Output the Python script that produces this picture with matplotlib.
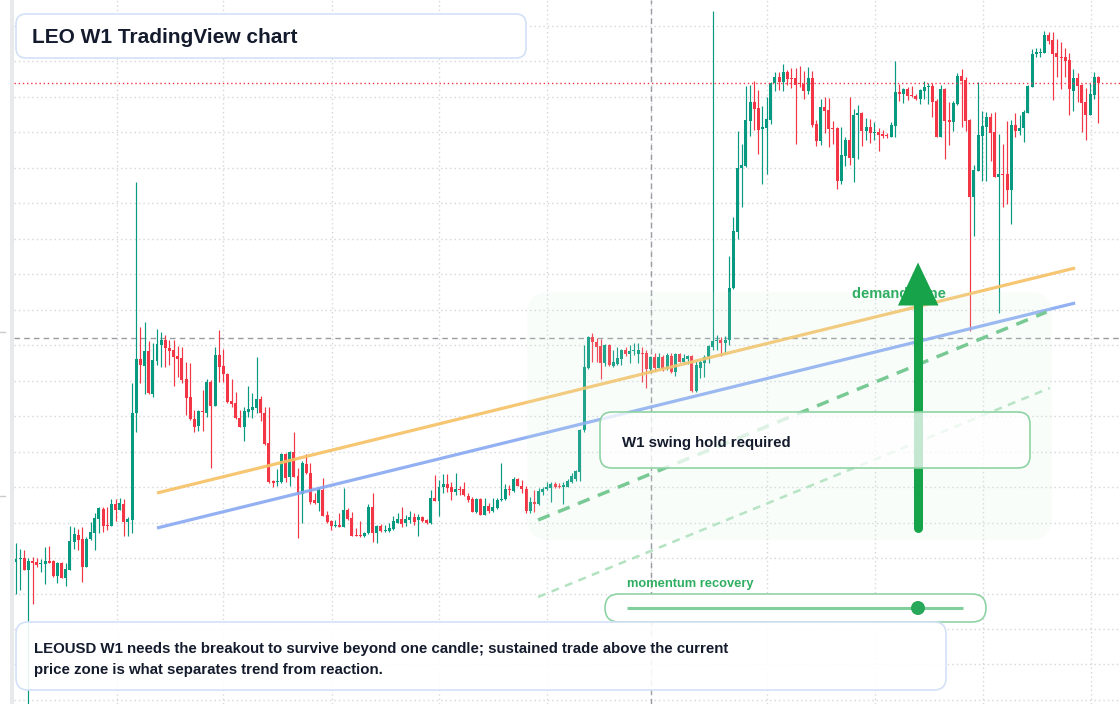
import numpy as np
import matplotlib
matplotlib.use("Agg")
import matplotlib.pyplot as plt
from matplotlib.patches import FancyBboxPatch, Rectangle, Polygon, Circle

plt.rcParams['font.family'] = ['Liberation Sans', 'DejaVu Sans']

# ---------------- data: LEOUSD weekly OHLC ----------------
opens = [4.38, 4.41, 4.42, 4.30, 4.39, 4.38, 4.36, 4.36, 4.39, 4.39, 4.24, 4.37, 4.22, 4.30, 4.58, 4.65, 4.61, 4.33, 4.61, 4.67,
         4.81, 4.91, 4.75, 4.74, 4.96, 4.90, 4.96, 4.78, 4.80, 5.87, 6.41, 6.34, 6.49, 6.06, 6.39, 6.55, 6.60, 6.52, 6.50, 6.44,
         6.42, 6.21, 6.03, 5.81, 5.74, 5.89, 5.87, 6.18, 5.94, 6.45, 6.34, 6.26, 5.99, 5.97, 5.82, 5.73, 5.88, 5.90, 5.92, 6.01,
         5.87, 5.57, 5.19, 5.18, 5.18, 5.46, 5.23, 5.48, 5.24, 5.06, 5.36, 5.27, 5.00, 4.97, 5.10, 4.85, 4.79, 4.74, 4.75, 4.73,
         4.90, 4.82, 4.65, 4.65, 4.64, 4.67, 4.93, 4.67, 4.74, 4.69, 4.69, 4.71, 4.77, 4.81, 4.77, 4.80, 4.83, 4.80, 4.83, 4.80,
         4.77, 5.02, 4.99, 5.13, 5.16, 5.13, 5.08, 5.11, 5.11, 5.04, 5.01, 4.88, 5.01, 4.85, 4.94, 4.89, 4.92, 5.00, 5.01, 5.11,
         5.09, 5.21, 5.14, 5.11, 4.89, 4.98, 4.96, 5.08, 5.11, 5.12, 5.16, 5.14, 5.13, 5.13, 5.18, 5.21, 5.28, 5.70, 6.32, 6.63,
         6.58, 6.54, 6.37, 6.55, 6.34, 6.36, 6.41, 6.50, 6.46, 6.49, 6.46, 6.47, 6.47, 6.31, 6.43, 6.32, 6.43, 6.31, 6.44, 6.28,
         6.46, 6.38, 6.41, 6.44, 6.09, 6.32, 6.37, 6.43, 6.53, 6.59, 6.60, 6.57, 6.60, 7.12, 7.68, 8.32, 8.34, 8.79, 8.98, 8.92,
         8.71, 8.72, 8.80, 9.17, 9.23, 9.18, 9.28, 9.22, 9.22, 9.17, 9.16, 9.09, 9.22, 8.76, 8.59, 8.93, 8.90, 8.72, 8.72, 8.19,
         8.44, 8.60, 8.42, 8.85, 8.87, 8.69, 8.73, 8.67, 8.68, 8.66, 8.65, 8.63, 8.74, 9.08, 9.06, 9.11, 9.05, 9.04, 9.01, 9.09,
         9.13, 9.14, 8.99, 8.63, 9.11, 8.80, 8.78, 8.96, 9.24, 9.20, 8.80, 8.03, 8.29, 8.64, 8.73, 8.83, 8.68, 8.23, 8.26, 8.26,
         8.10, 8.75, 8.69, 8.72, 8.87, 9.13, 9.46, 9.47, 9.47, 9.65, 9.60, 9.47, 9.43, 9.43, 9.40, 9.09, 9.22, 9.15, 8.98, 8.85,
         9.05, 9.23]
highs = [4.57, 4.51, 4.50, 4.42, 4.43, 4.42, 4.41, 4.53, 4.54, 4.40, 4.38, 4.38, 4.37, 4.74, 4.73, 4.71, 4.73, 4.63, 4.78, 4.87,
         4.93, 4.93, 4.93, 5.01, 5.01, 5.02, 5.01, 4.83, 6.17, 8.18, 6.73, 6.78, 6.59, 6.57, 6.71, 6.68, 6.65, 6.60, 6.60, 6.54,
         6.53, 6.38, 6.37, 5.90, 5.90, 6.10, 6.21, 6.20, 6.53, 6.70, 6.51, 6.27, 6.21, 6.08, 5.90, 5.93, 6.14, 6.07, 6.43, 6.04,
         5.93, 5.93, 5.20, 5.31, 5.47, 5.47, 5.49, 5.68, 5.32, 5.39, 5.46, 5.37, 5.07, 5.13, 5.22, 4.89, 4.80, 4.80, 4.87, 5.12,
         4.92, 4.88, 4.72, 4.79, 4.68, 4.96, 5.07, 4.75, 4.76, 4.75, 4.77, 4.84, 4.87, 4.93, 4.85, 4.89, 4.87, 4.86, 4.84, 4.81,
         5.10, 5.25, 5.20, 5.26, 5.26, 5.18, 5.27, 5.14, 5.18, 5.07, 5.03, 5.02, 5.02, 5.02, 4.97, 5.02, 5.02, 5.37, 5.16, 5.15,
         5.23, 5.22, 5.20, 5.14, 5.03, 5.10, 5.12, 5.13, 5.18, 5.18, 5.18, 5.17, 5.18, 5.21, 5.27, 5.30, 5.71, 6.55, 6.64, 6.67,
         6.62, 6.61, 6.56, 6.56, 6.50, 6.53, 6.51, 6.53, 6.55, 6.57, 6.57, 6.53, 6.50, 6.44, 6.47, 6.47, 6.45, 6.47, 6.47, 6.47,
         6.47, 6.46, 6.45, 6.45, 6.39, 6.40, 6.45, 6.55, 9.89, 6.65, 6.63, 6.64, 7.44, 7.83, 8.69, 8.56, 9.14, 9.15, 9.19, 9.10,
         8.94, 9.03, 9.18, 9.28, 9.28, 9.36, 9.30, 9.32, 9.32, 9.34, 9.29, 9.33, 9.29, 8.80, 9.01, 9.03, 9.02, 8.79, 8.73, 8.73,
         8.63, 9.03, 8.91, 8.95, 8.88, 8.82, 8.81, 8.78, 8.72, 8.70, 8.67, 8.78, 9.39, 9.16, 9.12, 9.13, 9.14, 9.06, 9.11, 9.19,
         9.17, 9.17, 9.01, 9.15, 9.12, 8.98, 8.99, 9.27, 9.31, 9.23, 8.81, 8.35, 9.18, 8.89, 8.88, 8.87, 8.88, 8.66, 8.56, 8.79,
         8.80, 8.87, 8.85, 8.90, 9.15, 9.51, 9.52, 9.52, 9.69, 9.68, 9.68, 9.61, 9.58, 9.52, 9.47, 9.31, 9.27, 9.16, 9.12, 9.17,
         9.28, 9.24]
lows = [4.06, 4.10, 4.30, 2.90, 3.96, 4.33, 4.28, 4.16, 4.37, 4.23, 4.17, 4.22, 4.14, 4.30, 4.51, 4.50, 4.18, 4.33, 4.60, 4.50,
        4.67, 4.68, 4.70, 4.74, 4.79, 4.90, 4.64, 4.64, 4.67, 5.68, 6.17, 6.06, 6.06, 6.03, 6.35, 6.33, 6.33, 6.35, 6.14, 6.23,
        6.17, 5.85, 5.80, 5.68, 5.69, 5.69, 5.83, 5.32, 5.94, 6.18, 6.18, 5.97, 5.93, 5.81, 5.73, 5.59, 5.83, 5.82, 5.87, 5.79,
        5.55, 5.17, 5.13, 5.14, 5.17, 5.18, 5.14, 5.23, 4.62, 4.77, 5.26, 4.96, 4.96, 4.89, 4.84, 4.77, 4.70, 4.73, 4.73, 4.73,
        4.80, 4.64, 4.64, 4.63, 4.63, 4.66, 4.58, 4.57, 4.68, 4.68, 4.68, 4.70, 4.77, 4.73, 4.74, 4.77, 4.75, 4.64, 4.78, 4.76,
        4.76, 4.99, 4.84, 5.07, 5.08, 5.00, 5.05, 5.05, 5.04, 4.98, 4.88, 4.87, 4.85, 4.85, 4.87, 4.88, 4.91, 4.99, 5.00, 5.05,
        5.08, 5.14, 5.07, 4.87, 4.87, 4.88, 4.95, 5.05, 5.10, 4.98, 5.12, 5.12, 4.96, 5.13, 5.17, 5.19, 5.19, 5.68, 6.31, 6.38,
        6.38, 6.21, 6.34, 6.34, 6.33, 6.35, 6.35, 6.44, 6.37, 6.45, 6.37, 6.18, 6.12, 6.29, 6.29, 6.32, 6.29, 6.30, 6.27, 6.24,
        6.38, 6.37, 6.36, 6.08, 6.08, 6.22, 6.23, 6.37, 6.50, 6.50, 6.44, 6.46, 6.55, 7.11, 7.61, 7.93, 8.33, 8.64, 8.70, 8.46,
        8.16, 8.26, 8.76, 9.09, 9.10, 9.09, 9.15, 9.12, 8.56, 9.13, 9.01, 9.06, 8.73, 8.54, 8.55, 8.67, 8.53, 8.56, 8.11, 8.16,
        8.34, 8.35, 8.18, 8.41, 8.54, 8.60, 8.57, 8.60, 8.49, 8.62, 8.62, 8.63, 8.63, 8.99, 8.97, 9.00, 9.03, 9.00, 8.96, 9.01,
        8.96, 8.83, 8.63, 8.63, 8.41, 8.55, 8.69, 8.95, 8.73, 8.69, 6.69, 7.64, 8.29, 8.19, 8.19, 8.39, 8.23, 6.87, 7.93, 7.96,
        7.76, 8.63, 8.65, 8.58, 8.87, 9.13, 9.43, 9.43, 9.47, 9.56, 9.00, 9.23, 9.11, 9.23, 8.85, 8.89, 8.98, 8.68, 8.60, 8.85,
        9.01, 8.77]
closes = [4.41, 4.42, 4.30, 4.39, 4.37, 4.35, 4.37, 4.39, 4.37, 4.24, 4.37, 4.22, 4.31, 4.59, 4.66, 4.60, 4.33, 4.61, 4.68, 4.82,
          4.92, 4.74, 4.74, 4.96, 4.90, 4.97, 4.78, 4.81, 5.87, 6.41, 6.35, 6.49, 6.07, 6.40, 6.56, 6.60, 6.52, 6.49, 6.43, 6.41,
          6.20, 6.02, 5.81, 5.73, 5.89, 5.88, 6.18, 5.94, 6.45, 6.33, 6.26, 5.98, 5.96, 5.82, 5.73, 5.89, 5.91, 5.93, 6.01, 5.87,
          5.56, 5.18, 5.17, 5.19, 5.46, 5.22, 5.48, 5.23, 5.07, 5.37, 5.27, 4.98, 4.97, 5.10, 4.84, 4.78, 4.74, 4.75, 4.73, 4.90,
          4.81, 4.64, 4.64, 4.64, 4.67, 4.93, 4.67, 4.74, 4.69, 4.70, 4.72, 4.79, 4.81, 4.76, 4.81, 4.83, 4.78, 4.83, 4.79, 4.77,
          5.02, 4.99, 5.13, 5.16, 5.12, 5.08, 5.11, 5.10, 5.05, 5.00, 4.88, 5.01, 4.85, 4.94, 4.89, 4.93, 5.00, 5.01, 5.11, 5.10,
          5.21, 5.14, 5.11, 4.89, 4.98, 4.96, 5.09, 5.11, 5.13, 5.16, 5.13, 5.13, 5.15, 5.19, 5.24, 5.29, 5.70, 6.33, 6.63, 6.58,
          6.53, 6.37, 6.55, 6.35, 6.38, 6.42, 6.50, 6.46, 6.49, 6.50, 6.50, 6.46, 6.31, 6.43, 6.32, 6.43, 6.31, 6.45, 6.28, 6.46,
          6.38, 6.42, 6.44, 6.09, 6.35, 6.38, 6.43, 6.54, 6.59, 6.60, 6.57, 6.60, 7.12, 7.69, 8.32, 8.35, 8.80, 8.98, 8.91, 8.70,
          8.73, 8.81, 9.17, 9.23, 9.18, 9.28, 9.21, 9.21, 9.15, 9.16, 9.09, 9.22, 8.75, 8.59, 8.93, 8.89, 8.71, 8.71, 8.19, 8.45,
          8.60, 8.42, 8.85, 8.87, 8.69, 8.73, 8.67, 8.68, 8.65, 8.64, 8.64, 8.75, 9.08, 9.06, 9.11, 9.04, 9.04, 9.01, 9.10, 9.13,
          9.14, 8.98, 8.63, 9.11, 8.79, 8.78, 8.97, 9.24, 9.19, 8.79, 8.03, 8.30, 8.65, 8.74, 8.83, 8.67, 8.23, 8.26, 8.25, 8.10,
          8.75, 8.69, 8.72, 8.88, 9.14, 9.46, 9.48, 9.48, 9.65, 9.59, 9.46, 9.43, 9.42, 9.39, 9.11, 9.22, 9.14, 8.97, 8.85, 9.06,
          9.23, 9.17]

# time-grid positions (bar index) and crosshair
time_grid = [24.3, 50.0, 76.1, 102.1, 128.1, 153.2, 181.2, 207.2, 233.1, 259.2]
crosshair_bar = 153.2
crosshair_price = 6.615

# drawn trendlines: (bar, price) endpoints
orange_line = [(34.0, 5.07), (255.4, 7.32)]
blue_line = [(34.0, 4.72), (255.4, 6.97)]
green_dash = [(125.9, 4.80), (248.5, 6.88)]
light_dash = [(125.9, 4.03), (249.3, 6.12)]

UP = '#089981'
DOWN = '#f23645'

W, H = 1120, 704
fig = plt.figure(figsize=(W / 100, H / 100), dpi=100)
fig.patch.set_facecolor('white')

# main price axes (pixel 16 = bar 0, 4.147 px per bar; price = 10 - y/100)
ax = fig.add_axes([0, 0, 1, 1])
ax.set_xlim(-16 / 4.147, (W - 16) / 4.147)
ax.set_ylim(10 - H / 100, 10.0)
ax.axis('off')

o = np.array(opens); h = np.array(highs); l = np.array(lows); c = np.array(closes)
idx = np.arange(len(o))
col = np.where(c >= o, UP, DOWN)

xmin_frac = 14 / W
# horizontal grid
for p in np.arange(9.74, 2.9, -0.3547):
    ax.axhline(p, xmin=xmin_frac, xmax=1, color='#d4d6da', lw=1.0, ls=(0, (1, 2.2)), zorder=0)
for g in time_grid:
    ax.axvline(g, color='#d4d6da', lw=1.0, ls=(0, (1, 2.2)), zorder=0)

# crosshair
ax.axvline(crosshair_bar, color='#9a9ca3', lw=1.0, ls=(0, (4, 3)), zorder=1)
ax.axhline(crosshair_price, xmin=xmin_frac, xmax=1, color='#9a9ca3', lw=1.0, ls=(0, (4, 3)), zorder=1)

# candles
ax.vlines(idx, l, h, colors=col, lw=0.85, zorder=2)
body_lo = np.minimum(o, c)
body_h = np.maximum(np.abs(c - o), 0.014)
ax.bar(idx, body_h, bottom=body_lo, width=0.72, color=col, lw=0, zorder=3)

# last price line
ax.axhline(c[-1], xmin=xmin_frac, xmax=1, color=DOWN, lw=1.0, ls=(0, (1, 2)), zorder=4)

# trendlines
def seg(pts, **kw):
    ax.plot([pts[0][0], pts[1][0]], [pts[0][1], pts[1][1]], **kw)

seg(orange_line, color='#f6c063', lw=2.3, alpha=0.9, solid_capstyle='butt', zorder=5)
seg(blue_line, color='#87a8f2', lw=2.3, alpha=0.9, solid_capstyle='butt', zorder=5)
seg(green_dash, color='#6cc48b', lw=2.5, ls=(0, (3.6, 2.6)), zorder=5)
seg(light_dash, color='#b3e2c1', lw=1.8, ls=(0, (3.2, 2.6)), zorder=5)

# overlay in pixel coordinates for annotation furniture
ov = fig.add_axes([0, 0, 1, 1], zorder=5)
ov.set_xlim(0, W)
ov.set_ylim(H, 0)
ov.axis('off')
ov.patch.set_alpha(0)

ov.add_patch(Rectangle((0, 0), 10, H, fc='white', ec='none', zorder=1))
ov.add_patch(Rectangle((10, 0), 4, H, fc='#e8e9eb', ec='none', zorder=1))
for ty in (332, 496):
    ov.plot([0, 5], [ty, ty], color='#c9cbcf', lw=1, zorder=2)

# demand zone shading
ov.add_patch(FancyBboxPatch((527, 292), 525, 248, boxstyle='round,pad=0,rounding_size=22',
                            fc='#d2f2dc', ec='none', alpha=0.13, zorder=2))
ov.text(851.5, 294.5, 'demand zone', color='#2fae62', fontsize=10.5, fontweight='bold',
        ha='left', va='center', zorder=3)

# arrow
ov.plot([918, 918], [528, 300], color='#16a34a', lw=6.5, solid_capstyle='round', zorder=4)
ov.add_patch(Polygon([(918, 262.5), (898, 305.5), (938.5, 305.5)], closed=True,
                     fc='#16a34a', ec='none', zorder=4))

# W1 box
ov.add_patch(FancyBboxPatch((600, 412), 430, 56, boxstyle='round,pad=0,rounding_size=12',
                            fc=(1, 1, 1, 0.75), ec='#8fd3a5', lw=1.2, zorder=6))
ov.text(622, 443, 'W1 swing hold required', color='#141b2d', fontsize=10.8,
        fontweight='bold', ha='left', va='center', zorder=7)

# momentum slider
ov.text(627, 584, 'momentum recovery', color='#2fae62', fontsize=9.3, fontweight='bold',
        ha='left', va='center', zorder=7)
ov.add_patch(FancyBboxPatch((605, 594), 381, 28, boxstyle='round,pad=0,rounding_size=14',
                            fc='white', ec='#8fd3a5', lw=1.2, zorder=6))
ov.plot([627, 963], [608, 608], color='#80cf9c', lw=2.2, solid_capstyle='butt', zorder=7)
ov.add_patch(Circle((918, 608), 7, fc='#27a85a', ec='none', zorder=8))

# bottom note
ov.add_patch(FancyBboxPatch((16, 622), 930, 68, boxstyle='round,pad=0,rounding_size=12',
                            fc=(1, 1, 1, 0.9), ec='#d3e1f6', lw=1.2, zorder=9))
ov.text(34, 649.5, 'LEOUSD W1 needs the breakout to survive beyond one candle; sustained trade above the current',
        color='#141b2d', fontsize=10.8, fontweight='bold', ha='left', va='center', zorder=10)
ov.text(34, 670, 'price zone is what separates trend from reaction.',
        color='#141b2d', fontsize=10.8, fontweight='bold', ha='left', va='center', zorder=10)

# title
ov.add_patch(FancyBboxPatch((16, 14), 510, 44, boxstyle='round,pad=0,rounding_size=10',
                            fc='white', ec='#d3e1f6', lw=1.2, zorder=9))
ov.text(32, 37.5, 'LEO W1 TradingView chart', color='#141b2d', fontsize=15,
        fontweight='bold', ha='left', va='center', zorder=10)

fig.savefig('out.png', dpi=100)
